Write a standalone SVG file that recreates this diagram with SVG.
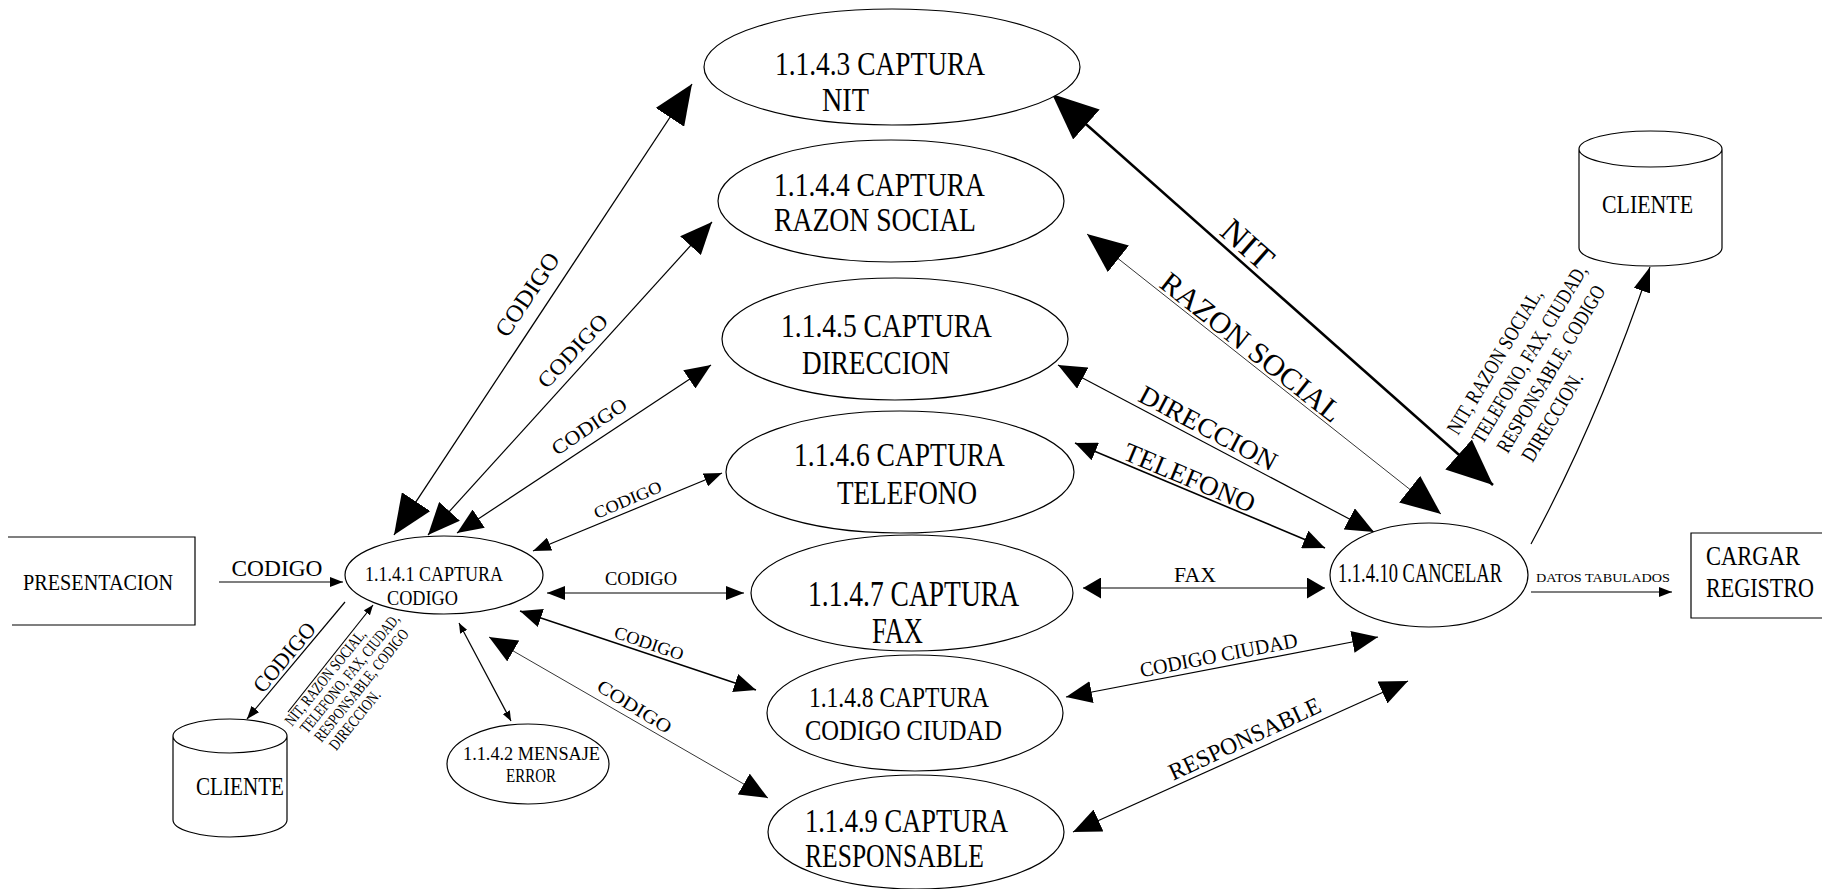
<svg xmlns="http://www.w3.org/2000/svg" width="1833" height="889" viewBox="0 0 1833 889">
<style>
.n{fill:#fff;stroke:#000;stroke-width:1.2}
.t{font-family:"Liberation Serif","DejaVu Serif",serif;fill:#000}
.c{fill:none;stroke:#000;stroke-width:1.2}
.mk{fill:#000}
</style>
<defs>
<marker id="mA" viewBox="0 0 10 8" refX="10" refY="4" markerWidth="10" markerHeight="8" markerUnits="userSpaceOnUse" orient="auto-start-reverse"><path class="mk" d="M0,0L10,4L0,8z"/></marker>
<marker id="mB" viewBox="0 0 13 10" refX="13" refY="5" markerWidth="13" markerHeight="10" markerUnits="userSpaceOnUse" orient="auto-start-reverse"><path class="mk" d="M0,0L13,5L0,10z"/></marker>
<marker id="mC" viewBox="0 0 18 14" refX="18" refY="7" markerWidth="18" markerHeight="14" markerUnits="userSpaceOnUse" orient="auto-start-reverse"><path class="mk" d="M0,0L18,7L0,14z"/></marker>
<marker id="mJ" viewBox="0 0 18 21" refX="18" refY="10.5" markerWidth="18" markerHeight="21" markerUnits="userSpaceOnUse" orient="auto-start-reverse"><path class="mk" d="M0,0L18,10.5L0,21z"/></marker>
<marker id="mD" viewBox="0 0 22 19" refX="22" refY="9.5" markerWidth="22" markerHeight="19" markerUnits="userSpaceOnUse" orient="auto-start-reverse"><path class="mk" d="M0,0L22,9.5L0,19z"/></marker>
<marker id="mI" viewBox="0 0 25 17" refX="25" refY="8.5" markerWidth="25" markerHeight="17" markerUnits="userSpaceOnUse" orient="auto-start-reverse"><path class="mk" d="M0,0L25,8.5L0,17z"/></marker>
<marker id="mE" viewBox="0 0 26 22" refX="26" refY="11" markerWidth="26" markerHeight="22" markerUnits="userSpaceOnUse" orient="auto-start-reverse"><path class="mk" d="M0,0L26,11L0,22z"/></marker>
<marker id="mK" viewBox="0 0 28 24" refX="28" refY="12" markerWidth="28" markerHeight="24" markerUnits="userSpaceOnUse" orient="auto-start-reverse"><path class="mk" d="M0,0L28,12L0,24z"/></marker>
<marker id="mF" viewBox="0 0 32 28" refX="32" refY="14" markerWidth="32" markerHeight="28" markerUnits="userSpaceOnUse" orient="auto-start-reverse"><path class="mk" d="M0,0L32,14L0,28z"/></marker>
<marker id="mG" viewBox="0 0 40 34" refX="40" refY="17" markerWidth="40" markerHeight="34" markerUnits="userSpaceOnUse" orient="auto-start-reverse"><path class="mk" d="M0,0L40,17L0,34z"/></marker>
<marker id="mH" viewBox="0 0 46 40" refX="46" refY="20" markerWidth="46" markerHeight="40" markerUnits="userSpaceOnUse" orient="auto-start-reverse"><path class="mk" d="M0,0L46,20L0,40z"/></marker>
</defs>
<rect width="1833" height="889" fill="#fff"/>

<g id="connectors">
<path class="c" d="M219,582L343,582" marker-end="url(#mB)"/>
<path class="c" d="M345,602L247,719" marker-end="url(#mB)"/>
<path class="c" d="M288,712L373,605" marker-end="url(#mA)"/>
<path class="c" d="M459,623L511,721" marker-start="url(#mA)" marker-end="url(#mA)"/>
<path class="c" style="stroke-width:1.3" d="M394,535L692,84" marker-start="url(#mG)" marker-end="url(#mG)"/>
<path class="c" d="M428,535L712,222" marker-start="url(#mF)" marker-end="url(#mF)"/>
<path class="c" d="M457,533L711,365" marker-start="url(#mE)" marker-end="url(#mE)"/>
<path class="c" d="M533,551L722,473" marker-start="url(#mC)" marker-end="url(#mC)"/>
<path class="c" d="M547,593L744,593" marker-start="url(#mC)" marker-end="url(#mC)"/>
<path class="c" style="stroke-width:1.4" d="M520,611L756,690" marker-start="url(#mD)" marker-end="url(#mD)"/>
<path class="c" style="stroke-width:0.8" d="M489,637L768,798" marker-start="url(#mK)" marker-end="url(#mK)"/>
<path class="c" style="stroke-width:2.5" d="M1052,94L1493,485" marker-start="url(#mH)" marker-end="url(#mH)"/>
<path class="c" style="stroke-width:0.8" d="M1087,234L1441,514" marker-start="url(#mG)" marker-end="url(#mG)"/>
<path class="c" d="M1058,365L1374,532" marker-start="url(#mK)" marker-end="url(#mK)"/>
<path class="c" style="stroke-width:1.6" d="M1075,443L1325,548" marker-start="url(#mD)" marker-end="url(#mD)"/>
<path class="c" d="M1083,588L1325,588" marker-start="url(#mJ)" marker-end="url(#mJ)"/>
<path class="c" d="M1066,697L1378,637" marker-start="url(#mE)" marker-end="url(#mE)"/>
<path class="c" d="M1073,832L1408,681" marker-start="url(#mK)" marker-end="url(#mK)"/>
<path class="c" d="M1531,544Q1598,420 1650,267" marker-end="url(#mI)"/>
<path class="c" d="M1531,592L1672,592" marker-end="url(#mB)"/>

<text class="t" x="277" y="576" font-size="24" text-anchor="middle" textLength="91" lengthAdjust="spacingAndGlyphs">CODIGO</text>
<text class="t" font-size="22" text-anchor="middle" textLength="84" lengthAdjust="spacingAndGlyphs" transform="translate(290,662) rotate(-50)">CODIGO</text>
<g class="t" font-size="16" transform="translate(292,727) rotate(-51)">
<text textLength="119" lengthAdjust="spacingAndGlyphs">NIT, RAZON SOCIAL,</text>
<text x="4" y="16.5" textLength="148" lengthAdjust="spacingAndGlyphs">TELEFONO, FAX, CIUDAD,</text>
<text x="6" y="33" textLength="140" lengthAdjust="spacingAndGlyphs">RESPONSABLE, CODIGO</text>
<text x="9" y="49.5" textLength="72" lengthAdjust="spacingAndGlyphs">DIRECCION.</text>
</g>
<text class="t" font-size="24" text-anchor="middle" textLength="96" lengthAdjust="spacingAndGlyphs" transform="translate(534,299) rotate(-56)">CODIGO</text>
<text class="t" font-size="22" text-anchor="middle" textLength="92" lengthAdjust="spacingAndGlyphs" transform="translate(578,356) rotate(-47)">CODIGO</text>
<text class="t" font-size="20" text-anchor="middle" textLength="86" lengthAdjust="spacingAndGlyphs" transform="translate(593,432) rotate(-34)">CODIGO</text>
<text class="t" font-size="17" text-anchor="middle" textLength="72" lengthAdjust="spacingAndGlyphs" transform="translate(630,505) rotate(-23)">CODIGO</text>
<text class="t" x="641" y="585" font-size="18" text-anchor="middle" textLength="72" lengthAdjust="spacingAndGlyphs">CODIGO</text>
<text class="t" font-size="18" text-anchor="middle" textLength="72" lengthAdjust="spacingAndGlyphs" transform="translate(647,649) rotate(19)">CODIGO</text>
<text class="t" font-size="19" text-anchor="middle" textLength="84" lengthAdjust="spacingAndGlyphs" transform="translate(631,712) rotate(32)">CODIGO</text>

<text class="t" font-size="34" text-anchor="middle" textLength="58" lengthAdjust="spacingAndGlyphs" transform="translate(1240,253) rotate(41.6)">NIT</text>
<text class="t" font-size="30" text-anchor="middle" textLength="222" lengthAdjust="spacingAndGlyphs" transform="translate(1245,355) rotate(38.3)">RAZON SOCIAL</text>
<text class="t" font-size="27" text-anchor="middle" textLength="152" lengthAdjust="spacingAndGlyphs" transform="translate(1204,436) rotate(27.9)">DIRECCION</text>
<text class="t" font-size="27" text-anchor="middle" textLength="140" lengthAdjust="spacingAndGlyphs" transform="translate(1186,486) rotate(22.8)">TELEFONO</text>
<text class="t" x="1195" y="582" font-size="22" text-anchor="middle" textLength="42" lengthAdjust="spacingAndGlyphs">FAX</text>
<text class="t" font-size="21" text-anchor="middle" textLength="160" lengthAdjust="spacingAndGlyphs" transform="translate(1220,662) rotate(-11)">CODIGO CIUDAD</text>
<text class="t" font-size="24" text-anchor="middle" textLength="165" lengthAdjust="spacingAndGlyphs" transform="translate(1248,746) rotate(-25)">RESPONSABLE</text>
<g class="t" font-size="21" transform="translate(1458,436) rotate(-59)">
<text textLength="166" lengthAdjust="spacingAndGlyphs">NIT, RAZON SOCIAL,</text>
<text x="5" y="26" textLength="204" lengthAdjust="spacingAndGlyphs">TELEFONO, FAX, CIUDAD,</text>
<text x="10" y="52" textLength="191" lengthAdjust="spacingAndGlyphs">RESPONSABLE, CODIGO</text>
<text x="15" y="78" textLength="100" lengthAdjust="spacingAndGlyphs">DIRECCION.</text>
</g>
<text class="t" x="1603" y="582" font-size="13" text-anchor="middle" textLength="134" lengthAdjust="spacingAndGlyphs">DATOS TABULADOS</text>
</g>

<g id="presentacion">
<path class="n" style="fill:none" d="M8,537L195,537L195,625L12,625"/>
<text class="t" x="23" y="590" font-size="24" textLength="150" lengthAdjust="spacingAndGlyphs">PRESENTACION</text>
</g>
<g id="p1">
<ellipse class="n" cx="444" cy="575" rx="99" ry="39"/>
<text class="t" x="365" y="581" font-size="20" textLength="138" lengthAdjust="spacingAndGlyphs">1.1.4.1 CAPTURA</text>
<text class="t" x="387" y="605" font-size="20" textLength="71" lengthAdjust="spacingAndGlyphs">CODIGO</text>
</g>
<g id="p2">
<ellipse class="n" cx="528" cy="764" rx="81" ry="40"/>
<text class="t" x="463" y="760" font-size="18" textLength="137" lengthAdjust="spacingAndGlyphs">1.1.4.2 MENSAJE</text>
<text class="t" x="506" y="782" font-size="18" textLength="50" lengthAdjust="spacingAndGlyphs">ERROR</text>
</g>
<g id="p3">
<ellipse class="n" cx="892" cy="67" rx="188" ry="58"/>
<text class="t" x="775" y="75" font-size="33" textLength="210" lengthAdjust="spacingAndGlyphs">1.1.4.3 CAPTURA</text>
<text class="t" x="822" y="111" font-size="33" textLength="47" lengthAdjust="spacingAndGlyphs">NIT</text>
</g>
<g id="p4">
<ellipse class="n" cx="891" cy="201" rx="173" ry="61"/>
<text class="t" x="774" y="196" font-size="33" textLength="211" lengthAdjust="spacingAndGlyphs">1.1.4.4 CAPTURA</text>
<text class="t" x="774" y="231" font-size="33" textLength="202" lengthAdjust="spacingAndGlyphs">RAZON SOCIAL</text>
</g>
<g id="p5">
<ellipse class="n" cx="895" cy="339" rx="173" ry="61"/>
<text class="t" x="781" y="337" font-size="33" textLength="211" lengthAdjust="spacingAndGlyphs">1.1.4.5 CAPTURA</text>
<text class="t" x="802" y="374" font-size="33" textLength="148" lengthAdjust="spacingAndGlyphs">DIRECCION</text>
</g>
<g id="p6">
<ellipse class="n" cx="900" cy="472" rx="174" ry="61"/>
<text class="t" x="794" y="466" font-size="33" textLength="211" lengthAdjust="spacingAndGlyphs">1.1.4.6 CAPTURA</text>
<text class="t" x="837" y="504" font-size="33" textLength="140" lengthAdjust="spacingAndGlyphs">TELEFONO</text>
</g>
<g id="p7">
<ellipse class="n" cx="912" cy="593" rx="161" ry="58"/>
<text class="t" x="808" y="606" font-size="36" textLength="211" lengthAdjust="spacingAndGlyphs">1.1.4.7 CAPTURA</text>
<text class="t" x="872" y="643" font-size="36" textLength="51" lengthAdjust="spacingAndGlyphs">FAX</text>
</g>
<g id="p8">
<ellipse class="n" cx="915" cy="713" rx="148" ry="58"/>
<text class="t" x="809" y="707" font-size="29" textLength="180" lengthAdjust="spacingAndGlyphs">1.1.4.8 CAPTURA</text>
<text class="t" x="805" y="740" font-size="29" textLength="197" lengthAdjust="spacingAndGlyphs">CODIGO CIUDAD</text>
</g>
<g id="p9">
<ellipse class="n" cx="916" cy="832" rx="148" ry="57"/>
<text class="t" x="805" y="832" font-size="33" textLength="203" lengthAdjust="spacingAndGlyphs">1.1.4.9 CAPTURA</text>
<text class="t" x="805" y="867" font-size="33" textLength="179" lengthAdjust="spacingAndGlyphs">RESPONSABLE</text>
</g>
<g id="p10">
<ellipse class="n" cx="1429" cy="575" rx="99" ry="52"/>
<text class="t" x="1338" y="582" font-size="27" textLength="164" lengthAdjust="spacingAndGlyphs">1.1.4.10 CANCELAR</text>
</g>
<g id="cliente-left">
<path class="n" d="M173,736A57,17 0 0 1 287,736A57,17 0 0 1 173,736M173,736L173,820A57,17 0 0 0 287,820L287,736"/>
<text class="t" x="196" y="795" font-size="25" textLength="88" lengthAdjust="spacingAndGlyphs">CLIENTE</text>
</g>
<g id="cliente-right">
<path class="n" d="M1579,149A71.5,18 0 0 1 1722,149A71.5,18 0 0 1 1579,149M1579,149L1579,248A71.5,18 0 0 0 1722,248L1722,149"/>
<text class="t" x="1602" y="213" font-size="25" textLength="91" lengthAdjust="spacingAndGlyphs">CLIENTE</text>
</g>
<g id="cargar">
<path class="n" style="fill:none" d="M1822,533L1691,533L1691,618L1822,618"/>
<text class="t" x="1706" y="565" font-size="27" textLength="94" lengthAdjust="spacingAndGlyphs">CARGAR</text>
<text class="t" x="1706" y="597" font-size="27" textLength="108" lengthAdjust="spacingAndGlyphs">REGISTRO</text>
</g>
</svg>
